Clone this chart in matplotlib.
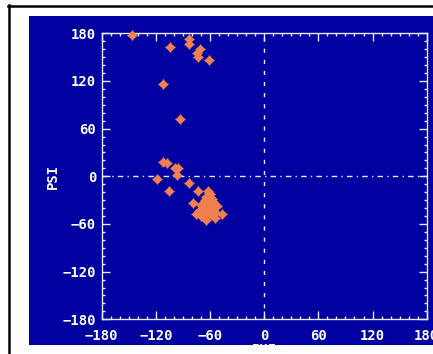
import numpy as np
import matplotlib.pyplot as plt
from matplotlib.patches import Rectangle
from matplotlib.lines import Line2D
from matplotlib.ticker import MultipleLocator

# Ramachandran points (phi, psi)
phi = [-146, -104, -83, -83, -71, -74, -73, -61, -112, -93,
       -112, -108, -99, -95, -97, -119, -105, -83, -73,
       -79, -61, -58, -62, -60, -64, -58, -66, -60, -56, -70, -64, -58, -52,
       -68, -62, -56, -72, -66, -60, -54, -64, -76, -47, -54, -70, -67]
psi = [178, 163, 173, 166, 160, 155, 150, 146, 116, 72,
       18, 17, 10, 10, 2, -4, -18, -8, -19,
       -34, -21, -29, -18, -22, -26, -28, -30, -32, -34, -36, -36, -38, -38,
       -42, -42, -44, -44, -48, -48, -46, -55, -47, -47, -52, -50, -41]

ticks = [-180, -120, -60, 0, 60, 120, 180]

W, H = 433, 354
blue = '#0000A0'
orange = '#F08050'
fg = '#E8E8FF'

fig = plt.figure(figsize=(W / 100, H / 100), dpi=100)
fig.patch.set_facecolor('white')

# black frame (top and left visible)
fig.add_artist(Line2D([8 / W, 1.0], [1 - 5.5 / H, 1 - 5.5 / H], transform=fig.transFigure,
                      color='black', lw=1.8, zorder=-5))
fig.add_artist(Line2D([9 / W, 9 / W], [0, 1 - 5 / H], transform=fig.transFigure,
                      color='black', lw=1.8, zorder=-5))

# blue panel
panel = Rectangle((29 / W, 1 - 345 / H), 1.0, (345 - 16) / H, transform=fig.transFigure,
                  facecolor=blue, edgecolor='none', zorder=-10)
fig.patches.append(panel)

ax = fig.add_axes([101.7 / W, 34.7 / H, 325 / W, 286 / H])
ax.set_facecolor(blue)
ax.set_xlim(-180, 180)
ax.set_ylim(-180, 180)

ax.axvline(0, color=fg, lw=1.0, ls=(0, (3, 5)), zorder=1)
ax.axhline(0, color=fg, lw=1.0, ls=(0, (4, 3, 1, 3)), zorder=1)

ax.plot(phi, psi, 'D', color=orange, ms=5.2, mec='none', zorder=3, clip_on=False)
ax.plot(phi, psi, '+', color=orange, ms=6.5, mew=1.0, zorder=3, clip_on=False)

ax.set_xticks(ticks)
ax.set_yticks(ticks)
ax.xaxis.set_minor_locator(MultipleLocator(10))
ax.yaxis.set_minor_locator(MultipleLocator(10))
ax.tick_params(which='both', direction='in', top=True, right=True, colors=fg)
ax.tick_params(which='major', length=5.5, width=1.0)
ax.tick_params(which='minor', length=2.5, width=1.0)
ax.tick_params(axis='x', pad=7)
ax.tick_params(axis='y', pad=4)
for lab in ax.get_xticklabels() + ax.get_yticklabels():
    lab.set_fontfamily('DejaVu Sans Mono')
    lab.set_fontweight('bold')
    lab.set_fontsize(10)
    lab.set_color('white')
for s in ax.spines.values():
    s.set_color(fg)
    s.set_linewidth(1.0)

ax.set_ylabel('PSI', family='DejaVu Sans Mono', weight='bold', fontsize=10,
              color='white', labelpad=2)

t = fig.text(264 / W, 1 - 342.5 / H, 'PHI', family='DejaVu Sans Mono', weight='bold',
             fontsize=10, color='white', ha='center', va='top', zorder=5)
t.set_clip_path(panel)

fig.savefig('out.png', dpi=100, facecolor='white')
